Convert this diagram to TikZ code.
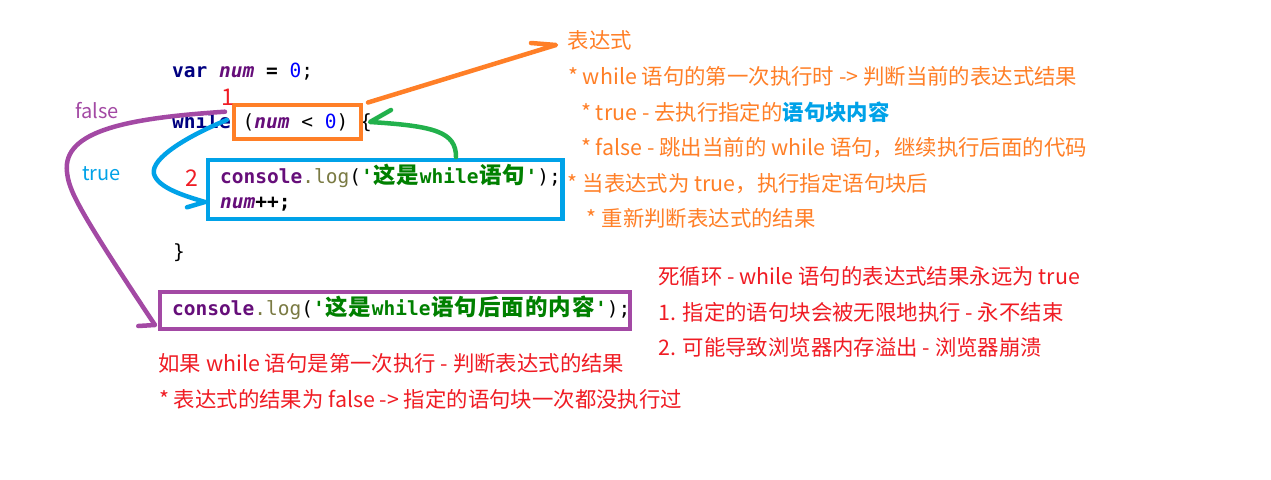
\documentclass[tikz,border=0pt]{standalone}
\usepackage{fontspec}
\setmainfont{Noto Sans CJK SC}
\newfontfamily\codefont{DejaVu Sans Mono}
\newfontfamily\cjkcode{Noto Sans CJK SC}
\definecolor{orangeA}{HTML}{FF7F27}
\definecolor{blueA}{HTML}{00A2E8}
\definecolor{greenA}{HTML}{22B14C}
\definecolor{purpleA}{HTML}{A349A4}
\definecolor{redA}{HTML}{F01C24}
\definecolor{kwnavy}{HTML}{000080}
\definecolor{varpurple}{HTML}{660E7A}
\definecolor{numblue}{HTML}{0000FF}
\definecolor{fnolive}{HTML}{7A7A43}
\definecolor{strgreen}{HTML}{008000}
\newcommand\kw[1]{\textcolor{kwnavy}{\bfseries #1}}
\newcommand\vr[1]{\textcolor{varpurple}{\bfseries\itshape #1}}
\newcommand\nb[1]{\textcolor{numblue}{#1}}
\def\cjloop#1{\ifx\relax#1\else\makebox[23.5pt]{#1}\expandafter\cjloop\fi}
\newcommand\cj[1]{{\cjkcode\fontsize{22.5}{26}\selectfont\cjloop#1\relax}}
\newcommand\strg[1]{\textcolor{strgreen}{\bfseries #1}}
\newcommand\conslog{\textcolor{varpurple}{\bfseries console}\textcolor{fnolive}{.log}}
\tikzset{
  code/.style={anchor=base west, inner sep=0, font=\codefont\fontsize{19.5}{23}\selectfont},
  ann/.style={anchor=base west, inner sep=0, font=\fontsize{21.4}{25}\selectfont},
  lbl/.style={anchor=base west, inner sep=0, font=\fontsize{20}{24}\selectfont},
  box/.style={draw=#1, line width=4.8, inner sep=0},
  hand/.style={draw=#1, line width=4.5, line cap=round, line join=round}
}
\begin{document}
\begin{tikzpicture}[x=1pt,y=-1pt]
\useasboundingbox (0,0) rectangle (1271,479);
\fill[white] (0,0) rectangle (1271,479);

% code
\node[code] (l1) at (172,77) {\kw{var} \vr{num} \textbf{=} \nb{0};};
\node[code] (l2) at (172,128.5) {\kw{while} (\vr{num} < \nb{0}) \{};
\node[code] (l3) at (220,183) {\conslog(\strg{'\cj{这是}while\cj{语句}'});};
\node[code] (l4) at (220,208) {\vr{num}\textbf{++;}};
\node[code] (l5) at (173,258) {\}};
\node[code] (l6) at (172,315) {\conslog(\strg{'\cj{这是}while\cj{语句后面的内容}'});};

% boxes
\node[box=orangeA, minimum width=127, minimum height=34] (cond) at (297.5,122) {};
\node[box=blueA, minimum width=354.5, minimum height=59] (body) at (385.25,189.5) {};
\node[box=purpleA, minimum width=470, minimum height=37] (after) at (395,310.5) {};

% small labels
\node[lbl, text=purpleA] (lfalse) at (75,118) {false};
\node[lbl, text=blueA] (ltrue) at (82,180) {true};
\node[anchor=base west, inner sep=0, font=\fontsize{23}{27}\selectfont, text=redA] (one) at (221,105) {1};
\node[anchor=base west, inner sep=0, font=\fontsize{23}{27}\selectfont, text=redA] (two) at (185,186.7) {2};

% orange annotations
\node[ann, text=orangeA] (expr) at (567.7,48.5) {表达式};
\node[ann, text=orangeA] (a2) at (568,84) {* while 语句的第一次执行时 -> 判断当前的表达式结果};
\node[ann, text=orangeA] (a3) at (581,120) {* true - 去执行指定的\textcolor{blueA}{\bfseries 语句块内容}};
\node[ann, text=orangeA] (a4) at (581,155) {* false - 跳出当前的 while 语句，继续执行后面的代码};
\node[ann, text=orangeA] (a5) at (567.7,191.5) {* 当表达式为 true，执行指定语句块后};
\node[ann, text=orangeA] (a6) at (586.7,226.5) {* 重新判断表达式的结果};

% red annotations
\node[ann, text=redA] (r1) at (658.3,284) {死循环 - while 语句的表达式结果永远为 true};
\node[ann, text=redA] (r2) at (658.3,320) {1. 指定的语句块会被无限地执行 - 永不结束};
\node[ann, text=redA] (r3) at (658.3,355.5) {2. 可能导致浏览器内存溢出 - 浏览器崩溃};
\node[ann, text=redA] (r4) at (158.3,371) {如果 while 语句是第一次执行 - 判断表达式的结果};
\node[ann, text=redA] (r5) at (159,407) {* 表达式的结果为 false -> 指定的语句块一次都没执行过};

% connectors
\coordinate (oS) at (368,102.5);
\coordinate (oE) at (556,45);
\coordinate (oB) at (531,43);
\draw[hand=orangeA] (oS) -- (oE) -- (oB);

\coordinate (gS) at (456,157);
\coordinate (gE) at (370,122);
\coordinate (gB) at (391,110);
\draw[hand=greenA] (gS) .. controls (456,132) and (435,126) .. (gE) -- (gB);

\coordinate (bS) at (226.7,120);
\coordinate (bM) at (154,174);
\coordinate (bE) at (205,202);
\coordinate (bB) at (187,207.3);
\draw[hand=blueA] (bS) .. controls (190,135) and (150,158) .. (bM)
  .. controls (158,188) and (185,196) .. (bE) -- (bB);

\coordinate (pS) at (225,111.7);
\coordinate (pM) at (67,172);
\coordinate (pE) at (155,325);
\coordinate (pB) at (138.3,326);
\draw[hand=purpleA] (pS) .. controls (130,118) and (62,130) .. (pM)
  .. controls (69,190) and (75,205) .. (pE) -- (pB);
\end{tikzpicture}
\end{document}
